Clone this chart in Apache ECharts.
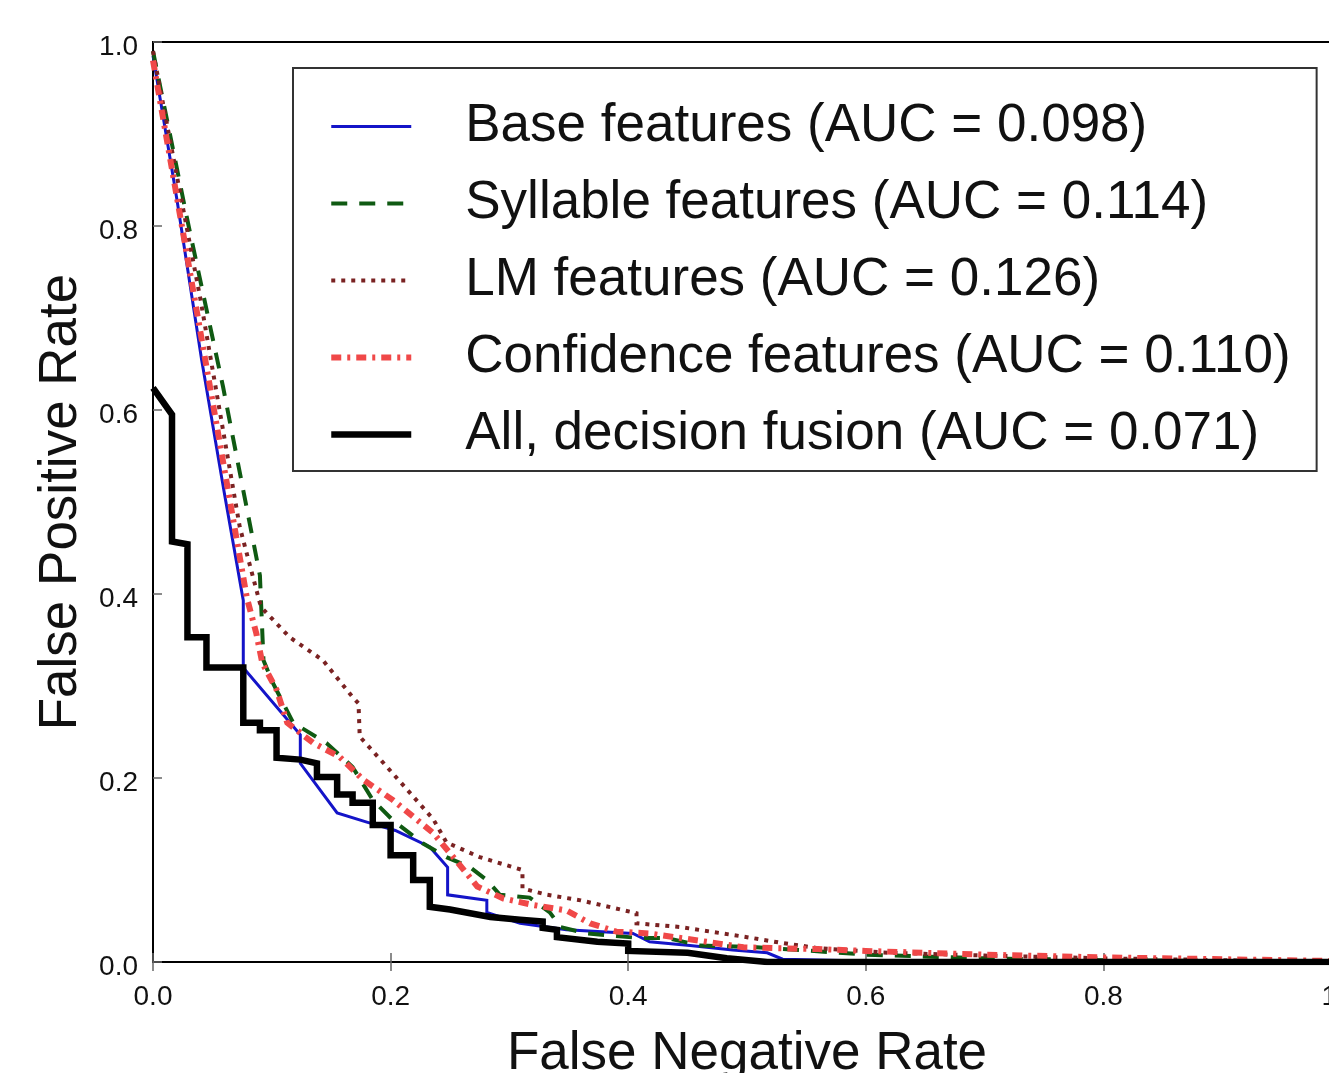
<!DOCTYPE html>
<html>
<head>
<meta charset="utf-8">
<script src="https://cdn.jsdelivr.net/npm/echarts@6/dist/echarts.min.js"></script>
<style>
html,body{margin:0;padding:0;background:#fff;}
#chart{width:1329px;height:1073px;}
</style>
</head>
<body>
<div id="chart"></div>
<script>
// ---- data (x = false negative rate, y = false positive rate) ----
const xTicks = [0.0, 0.2, 0.4, 0.6, 0.8, 1.0];
const yTicks = [0.0, 0.2, 0.4, 0.6, 0.8, 1.0];

const seriesNames = [
  'Base features (AUC = 0.098)',
  'Syllable features (AUC = 0.114)',
  'LM features (AUC = 0.126)',
  'Confidence features (AUC = 0.110)',
  'All, decision fusion (AUC = 0.071)'
];

const baseCurve = [
  [0,0.985],[0.02,0.83],[0.041,0.654],[0.06,0.51],[0.076,0.393],[0.076,0.32],
  [0.124,0.247],[0.124,0.216],[0.155,0.162],[0.18,0.152],[0.204,0.143],[0.233,0.125],
  [0.248,0.103],[0.248,0.073],[0.281,0.067],[0.281,0.054],[0.309,0.042],[0.348,0.035],
  [0.404,0.031],[0.418,0.022],[0.452,0.018],[0.488,0.013],[0.517,0.01],[0.53,0.003],
  [0.6,0.001],[1.0,0.0]
];

const syllableCurve = [
  [0,0.99],[0.03,0.80],[0.059,0.625],[0.09,0.42],[0.093,0.328],[0.101,0.303],
  [0.118,0.26],[0.146,0.238],[0.168,0.212],[0.185,0.176],[0.202,0.154],[0.227,0.129],
  [0.247,0.114],[0.267,0.103],[0.281,0.089],[0.292,0.073],[0.317,0.07],[0.334,0.054],
  [0.343,0.038],[0.365,0.031],[0.41,0.026],[0.433,0.026],[0.46,0.018],[0.508,0.016],
  [0.545,0.013],[0.6,0.008],[0.7,0.004],[0.8,0.002],[1.0,0.0]
];

const lmCurve = [
  [0,0.99],[0.04,0.72],[0.073,0.473],[0.09,0.39],[0.093,0.383],[0.115,0.353],
  [0.143,0.328],[0.168,0.288],[0.173,0.281],[0.174,0.245],[0.197,0.212],[0.236,0.155],
  [0.247,0.13],[0.275,0.114],[0.311,0.1],[0.311,0.08],[0.332,0.073],[0.36,0.067],
  [0.407,0.053],[0.407,0.042],[0.444,0.038],[0.5,0.027],[0.528,0.021],[0.56,0.015],
  [0.62,0.01],[0.7,0.007],[0.8,0.004],[0.9,0.002],[1.0,0.0]
];

const confidenceCurve = [
  [0,0.98],[0.045,0.647],[0.079,0.396],[0.087,0.357],[0.092,0.325],[0.104,0.296],
  [0.113,0.26],[0.135,0.238],[0.157,0.223],[0.177,0.198],[0.202,0.176],[0.236,0.14],
  [0.256,0.109],[0.273,0.082],[0.295,0.069],[0.32,0.062],[0.348,0.056],[0.368,0.042],
  [0.39,0.033],[0.418,0.031],[0.471,0.021],[0.497,0.016],[0.525,0.015],[0.56,0.014],
  [0.6,0.012],[0.65,0.01],[0.7,0.008],[0.8,0.005],[0.9,0.003],[1.0,0.001]
];

const fusionCurve = [
  [0,0.624],[0.016,0.595],[0.016,0.457],[0.029,0.454],[0.029,0.353],[0.045,0.353],
  [0.045,0.32],[0.076,0.32],[0.076,0.26],[0.09,0.26],[0.09,0.252],[0.104,0.252],
  [0.104,0.222],[0.124,0.22],[0.138,0.216],[0.138,0.201],[0.155,0.201],[0.155,0.182],
  [0.168,0.182],[0.168,0.173],[0.185,0.173],[0.185,0.149],[0.2,0.149],[0.2,0.116],
  [0.219,0.116],[0.219,0.089],[0.233,0.089],[0.233,0.06],[0.25,0.057],[0.284,0.049],
  [0.309,0.046],[0.328,0.044],[0.328,0.037],[0.34,0.035],[0.34,0.027],[0.374,0.022],
  [0.40,0.02],[0.40,0.012],[0.45,0.01],[0.483,0.004],[0.517,0.0],[1.0,0.0]
];

const curves = [baseCurve, syllableCurve, lmCurve, confidenceCurve, fusionCurve];
const styles = [
  {color:'#1414c8', width:3,   type:'solid'},
  {color:'#0f5a12', width:4,   type:[16,12]},
  {color:'#7a2222', width:4,   type:[4,6]},
  {color:'#f04848', width:6,   type:[10,6,3,6]},
  {color:'#000000', width:6.5, type:'solid'}
];

const FONT = '"Liberation Sans", Arial, Helvetica, sans-serif';
const chart = echarts.init(document.getElementById('chart'), null, {renderer:'canvas'});

const fmt = ticks => v => {
  const i = ticks.findIndex(t => Math.abs(t - v) < 1e-9);
  return i >= 0 ? ticks[i].toFixed(1) : '';
};

const option = {
  animation: false,
  backgroundColor: '#ffffff',
  grid: {left:153, top:42, right:-12, bottom:111, containLabel:false, outerBoundsMode:'none',
         show:true, borderColor:'#000', borderWidth:2, backgroundColor:'transparent'},
  legend: {
    show: true,
    orient: 'vertical',
    left: 293, top: 68,
    padding: [32, 26, 10, 35],
    itemGap: 24,
    itemWidth: 80, itemHeight: 14,
    borderColor: '#333', borderWidth: 2,
    backgroundColor: '#fff',
    data: seriesNames,
    itemStyle: {color:'rgba(0,0,0,0)', borderColor:'rgba(0,0,0,0)', borderWidth:0, opacity:0},
    lineStyle: {width:'inherit', type:'inherit', color:'inherit'},
    textStyle: {fontFamily: FONT, fontSize: 53, color:'#111', lineHeight: 53, padding:[0,0,0,49]},
    selectedMode: false
  },
  xAxis: [{
    type:'value', min:0, max:1, interval:0.2, position:'bottom',
    name:'False Negative Rate', nameLocation:'middle', nameGap:66,
    nameTextStyle:{fontFamily:FONT, fontSize:53, color:'#111'},
    axisLine:{show:true, lineStyle:{color:'#000', width:2}},
    axisTick:{show:true, inside:true, length:9, lineStyle:{color:'#666', width:1.5}},
    axisLabel:{fontFamily:FONT, fontSize:28, color:'#111', margin:21, formatter: fmt(xTicks)},
    splitLine:{show:false}
  },{
    type:'value', min:0, max:1, interval:0.2, position:'top',
    axisLine:{show:true, lineStyle:{color:'#000', width:2}},
    axisTick:{show:true, inside:true, length:9, lineStyle:{color:'#666', width:1.5}},
    axisLabel:{show:false}, splitLine:{show:false}
  }],
  yAxis: [{
    type:'value', min:0, max:1, interval:0.2, position:'left',
    name:'False Positive Rate', nameLocation:'middle', nameGap:49, nameRotate:90,
    nameTextStyle:{fontFamily:FONT, fontSize:53, color:'#111'},
    axisLine:{show:true, lineStyle:{color:'#000', width:2}},
    axisTick:{show:true, inside:true, length:9, lineStyle:{color:'#666', width:1.5}},
    axisLabel:{margin:15,
      formatter: v => '{t|' + fmt(yTicks)(v) + '}',
      rich:{t:{fontFamily:FONT, fontSize:28, color:'#111', lineHeight:28, padding:[10,0,0,0]}}},
    splitLine:{show:false}
  },{
    type:'value', min:0, max:1, interval:0.2, position:'right',
    axisLine:{show:false}, axisTick:{show:false}, axisLabel:{show:false}, splitLine:{show:false}
  }],
  series: curves.map((c, i) => ({
    name: seriesNames[i],
    type: 'line',
    data: c,
    xAxisIndex: 0, yAxisIndex: 0,
    showSymbol: false, symbol: 'none',
    lineStyle: {color: styles[i].color, width: styles[i].width, type: styles[i].type, cap:'butt', join:'miter'},
    itemStyle: {color: styles[i].color},
    emphasis: {disabled: true},
    z: 2 + i
  }))
};
chart.setOption(option);
</script>
</body>
</html>
